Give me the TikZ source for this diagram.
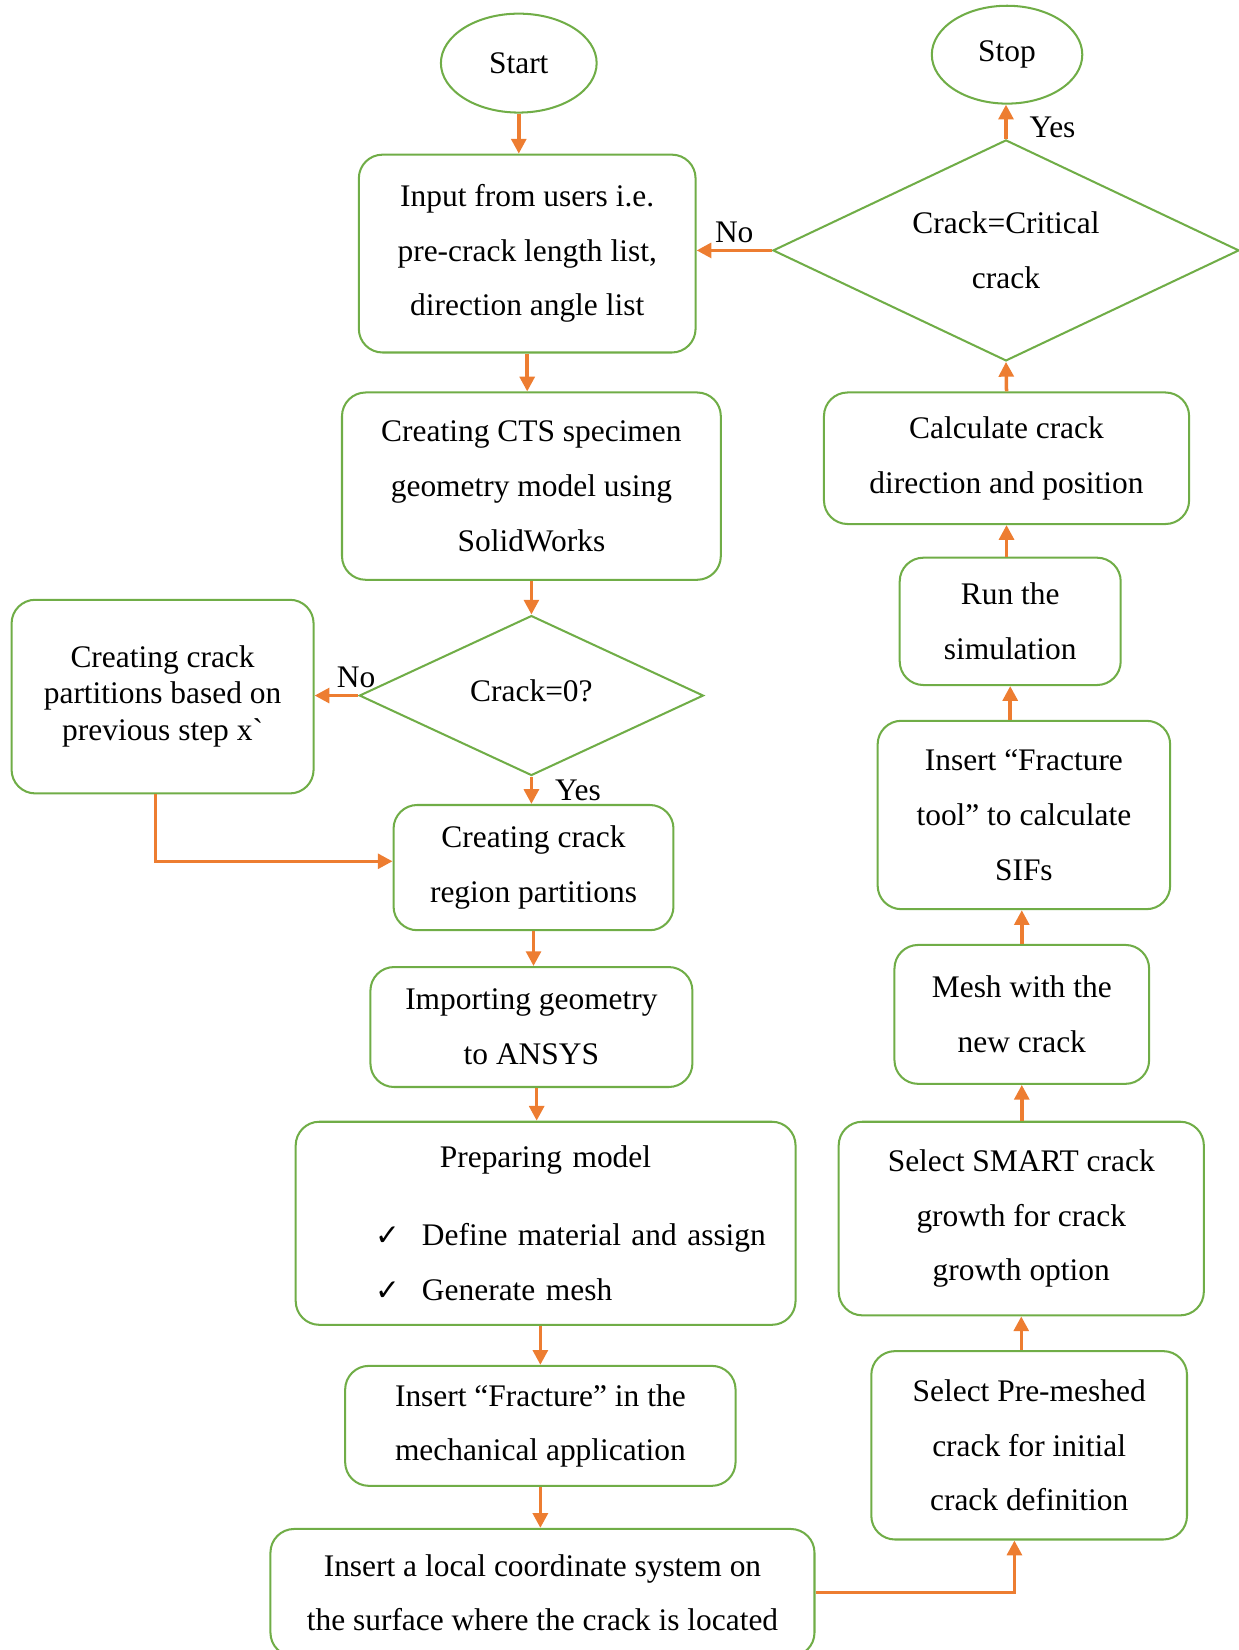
\documentclass[tikz,border=0pt]{standalone}
\usepackage{fontspec}
\setmainfont{Liberation Serif}
\newfontfamily\symbolfont{DejaVu Sans}
\usetikzlibrary{arrows.meta,shapes.geometric,positioning}

\definecolor{flowgreen}{RGB}{112,173,71}
\definecolor{floworange}{RGB}{237,125,49}

\tikzset{
  procbox/.style={draw=flowgreen, line width=1.1pt, rounded corners=0.45cm, align=center, inner sep=0pt},
  termnode/.style={ellipse, draw=flowgreen, line width=1.1pt, inner sep=0pt},
  decide/.style={diamond, draw=flowgreen, line width=1.1pt, align=center, inner sep=0pt},
  flow/.style={-{Triangle[length=0.28cm,width=0.28cm]}, draw=floworange, line width=1.9pt},
}
\newcommand{\tick}{\makebox[0.88cm][l]{\symbolfont\fontsize{16}{16}\selectfont ✓}}

\begin{document}
\begin{tikzpicture}[font=\fontsize{17}{29.6}\selectfont]
  \useasboundingbox (0,0) rectangle (23.54,31.36);

  % Left column
  \node[termnode, minimum width=2.96cm, minimum height=1.88cm] (start) at (9.86,30.16) {Start};
  \node[procbox, minimum width=6.4cm, minimum height=3.76cm] (input) at (10.02,26.54)
    {Input from users i.e.\\pre-crack length list,\\direction angle list};
  \node[procbox, minimum width=7.2cm, minimum height=3.56cm] (cts) at (10.10,22.12)
    {Creating CTS specimen\\geometry model using\\SolidWorks};
  \node[decide, shape aspect=2.15, minimum width=6.54cm, minimum height=3.04cm] (zero) at (10.10,18.14)
    {\raisebox{0.18cm}{Crack=0?}};
  \node[procbox, minimum width=5.74cm, minimum height=3.68cm, font=\fontsize{17}{20}\selectfont] (partn) at (3.09,18.12)
    {\raisebox{0.12cm}{\begin{tabular}{@{}c@{}}Creating crack\\partitions based on\\previous step x\textasciigrave\end{tabular}}};
  \node[procbox, minimum width=5.32cm, minimum height=2.38cm] (region) at (10.14,14.87)
    {Creating crack\\region partitions};
  \node[procbox, minimum width=6.12cm, minimum height=2.28cm] (import) at (10.10,11.84)
    {Importing geometry\\to ANSYS};
  \node[procbox, minimum width=9.5cm, minimum height=3.86cm, text width=9.5cm, align=left] (prep) at (10.37,8.11)
    {\hspace*{2.74cm}Preparing model\\[0.45cm]
     \hspace*{1.52cm}\tick Define material and assign\\
     \hspace*{1.52cm}\tick Generate mesh};
  \node[procbox, minimum width=7.42cm, minimum height=2.28cm] (insfrac) at (10.27,4.26)
    {Insert “Fracture” in the\\mechanical application};
  \node[procbox, minimum width=10.34cm, minimum height=2.42cm] (local) at (10.31,1.09)
    {Insert a local coordinate system on\\the surface where the crack is located};

  % Right column
  \node[termnode, minimum width=2.86cm, minimum height=1.86cm] (stop) at (19.14,30.32) {Stop};
  \node[decide, shape aspect=2.11, minimum width=8.86cm, minimum height=4.2cm] (crit) at (19.12,26.60)
    {Crack=Critical\\crack};
  \node[procbox, minimum width=6.94cm, minimum height=2.5cm] (calc) at (19.13,22.65)
    {Calculate crack\\direction and position};
  \node[procbox, minimum width=4.2cm, minimum height=2.42cm] (run) at (19.2,19.55)
    {Run the\\simulation};
  \node[procbox, minimum width=5.56cm, minimum height=3.58cm] (tool) at (19.46,15.87)
    {Insert “Fracture\\tool” to calculate\\SIFs};
  \node[procbox, minimum width=4.84cm, minimum height=2.64cm] (mesh) at (19.42,12.08)
    {Mesh with the\\new crack};
  \node[procbox, minimum width=6.94cm, minimum height=3.68cm] (smart) at (19.41,8.20)
    {Select SMART crack\\growth for crack\\growth option};
  \node[procbox, minimum width=6.0cm, minimum height=3.58cm] (premesh) at (19.56,3.89)
    {Select Pre-meshed\\crack for initial\\crack definition};

  % Connectors, left column
  \draw[flow] (start.south) -- (start.south |- input.north);
  \draw[flow] (input.south) -- (input.south |- cts.north);
  \draw[flow] (cts.south) -- (zero.north);
  \draw[flow] (zero.west) -- (zero.west -| partn.east) node[pos=0.05, above] {No};
  \draw[flow] (zero.south) -- (zero.south |- region.north) node[midway, right=0.3cm] {Yes};
  \draw[flow] ([xshift=-0.13cm]partn.south) |- ([yshift=0.12cm]region.west);
  \draw[flow] (region.south) -- (region.south |- import.north);
  \draw[flow] ([xshift=0.1cm]import.south) -- ([xshift=0.1cm]import.south |- prep.north);
  \draw[flow] (prep.south -| insfrac.north) -- (insfrac.north);
  \draw[flow] (insfrac.south) -- (insfrac.south |- local.north);
  \draw[flow] (local.east) -| ([xshift=-0.28cm]premesh.south);

  % Connectors, right column
  \draw[flow] (premesh.north -| smart.south) -- (smart.south);
  \draw[flow] (smart.north -| mesh.south) -- (mesh.south);
  \draw[flow] (mesh.north) -- (mesh.north |- tool.south);
  \draw[flow] (tool.north -| run.south) -- (run.south);
  \draw[flow] (run.north -| calc.south) -- (calc.south);
  \draw[flow] (calc.north) -- (crit.south);
  \draw[flow] (crit.north) -- (crit.north |- stop.south) node[pos=0.35, right=0.3cm] {Yes};
  \draw[flow] (crit.west) -- (crit.west -| input.east) node[midway, above] {No};
\end{tikzpicture}
\end{document}
